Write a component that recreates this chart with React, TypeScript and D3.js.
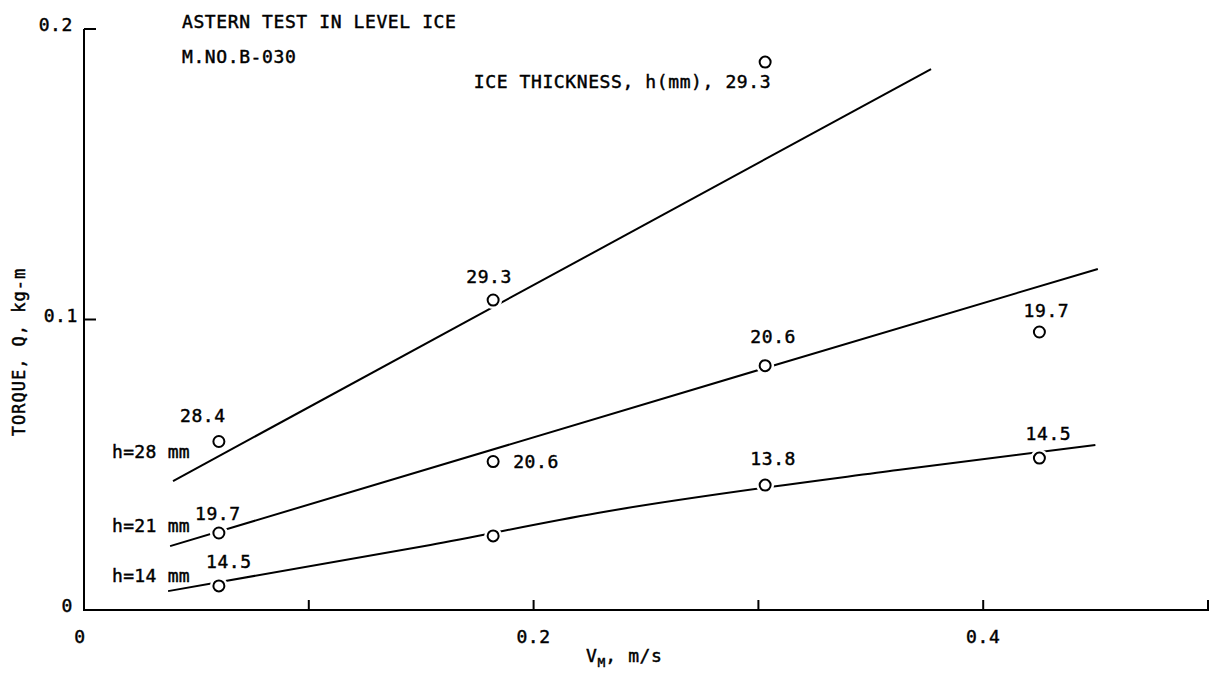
import React from "react";
import * as d3 from "d3";

// Model speed (m/s) at which each run was made
const speeds = [0.06, 0.182, 0.303, 0.425];

// Measured torque (kg-m) per nominal ice thickness, with the actual thickness (mm) of each run
const torque28 = [0.058, 0.1067, 0.1886];
const thick28 = ["28.4", "29.3", "29.3"];
const torque21 = [0.0265, 0.0511, 0.0841, 0.0957];
const thick21 = ["19.7", "20.6", "20.6", "19.7"];
const torque14 = [0.0083, 0.0255, 0.043, 0.0523];
const thick14 = ["14.5", "", "13.8", "14.5"];

// Faired curves drawn through the measurements: [speed, torque]
const fair28: [number, number][] = [
  [0.0396, 0.0444],
  [0.3768, 0.1862],
];
const fair21: [number, number][] = [
  [0.0383, 0.022],
  [0.303, 0.0833],
  [0.451, 0.1174],
];
const fair14: [number, number][] = [
  [0.0374, 0.0065],
  [0.1541, 0.0224],
  [0.2285, 0.0334],
  [0.362, 0.0482],
  [0.4499, 0.0568],
];

// Curve captions: nominal thickness and the torque level of their baseline
const curveNames = ["h=28 mm", "h=21 mm", "h=14 mm"];
const curveNameTorque = [0.0524, 0.0268, 0.0096];

const xTicks = [0.1, 0.2, 0.3, 0.4, 0.5];
const xTickLabels = [0, 0.2, 0.4];
const yTicks = [0, 0.1, 0.2];

const W = 1216;
const H = 683;
const FONT = "'DejaVu Sans Mono', monospace";

export default function App() {
  const x = d3.scaleLinear().domain([0, 0.5]).range([84, 1208]);
  const y = d3.scaleLinear().domain([0, 0.2]).range([610, 29]);

  const line = d3
    .line<[number, number]>()
    .x((d) => x(d[0]))
    .y((d) => y(d[1]))
    .curve(d3.curveMonotoneX);

  const txt = {
    fontFamily: FONT,
    fontSize: 18,
    letterSpacing: 0.6,
    fill: "#000",
    stroke: "#000",
    strokeWidth: 0.45,
  } as const;

  // label offsets (px) from each circle for each series
  const series = [
    {
      vals: torque28,
      labels: thick28,
      offs: [
        [-16, -20, "middle"],
        [-4, -17, "middle"],
        null,
      ],
    },
    {
      vals: torque21,
      labels: thick21,
      offs: [
        [-1, -13, "middle"],
        [20, 6, "start"],
        [8, -23, "middle"],
        [7, -15, "middle"],
      ],
    },
    {
      vals: torque14,
      labels: thick14,
      offs: [
        [10, -18, "middle"],
        null,
        [8, -20, "middle"],
        [9, -18, "middle"],
      ],
    },
  ];

  return (
    <svg
      width={W}
      height={H}
      viewBox={`0 0 ${W} ${H}`}
      style={{ position: "absolute", left: 0, top: 0, background: "#fff" }}
    >
      <rect x={0} y={0} width={W} height={H} fill="#fff" />

      {/* axes */}
      <line x1={x(0)} x2={x(0)} y1={y(0.2)} y2={y(0) + 1} stroke="#000" strokeWidth={2} />
      <line x1={x(0)} x2={x(0.5) + 1} y1={y(0)} y2={y(0)} stroke="#000" strokeWidth={2} />
      {yTicks.map((t) => (
        <g key={"yt" + t}>
          <line x1={x(0)} x2={x(0) + 12} y1={y(t)} y2={y(t)} stroke="#000" strokeWidth={2} />
          <text x={x(0) - (t === 0.1 ? 6 : 11)} y={y(t) + 2} textAnchor="end" {...txt}>
            {t === 0 ? "0" : t.toFixed(1)}
          </text>
        </g>
      ))}
      {xTicks.map((t) => (
        <line key={"xt" + t} x1={x(t)} x2={x(t)} y1={y(0)} y2={y(0) - 10} stroke="#000" strokeWidth={2} />
      ))}
      {xTickLabels.map((t) => (
        <text key={"xl" + t} x={x(t) - (t === 0 ? 4 : 0)} y={643} textAnchor="middle" {...txt}>
          {t === 0 ? "0" : t.toFixed(1)}
        </text>
      ))}

      {/* axis titles */}
      <text x={586} y={662} {...txt}>
        V
        <tspan fontSize={13} dy={5} letterSpacing={0}>
          M
        </tspan>
        <tspan dy={-5}>, m/s</tspan>
      </text>
      <text
        transform={`translate(25, 352) rotate(-90)`}
        textAnchor="middle"
        {...txt}
        fontSize={17}
        letterSpacing={1}
      >
        TORQUE, Q, kg-m
      </text>

      {/* headings */}
      <text x={182} y={28} {...txt}>
        ASTERN TEST IN LEVEL ICE
      </text>
      <text x={182} y={63} {...txt}>
        M.NO.B-030
      </text>
      <text x={x(speeds[2]) + 6} y={88} textAnchor="end" {...txt}>
        ICE THICKNESS, h(mm), 29.3
      </text>

      {/* faired curves */}
      {[fair28, fair21, fair14].map((f, i) => (
        <path key={"f" + i} d={line(f) ?? ""} fill="none" stroke="#000" strokeWidth={2} />
      ))}

      {/* curve captions */}
      {curveNames.map((n, i) => (
        <text key={"cn" + i} x={112} y={y(curveNameTorque[i])} {...txt} letterSpacing={0.3}>
          {n}
        </text>
      ))}

      {/* measured points */}
      {series.map((s, si) =>
        s.vals.map((v, i) => {
          const cx = x(speeds[i]);
          const cy = y(v);
          const o = s.offs[i] as [number, number, string] | null;
          return (
            <g key={`p${si}-${i}`}>
              <circle cx={cx} cy={cy} r={9} fill="#fff" />
              <circle cx={cx} cy={cy} r={5.5} fill="#fff" stroke="#000" strokeWidth={2} />
              {o && s.labels[i] && (
                <text
                  x={cx + o[0]}
                  y={cy + o[1]}
                  textAnchor={o[2] as "middle" | "start"}
                  {...txt}
                >
                  {s.labels[i]}
                </text>
              )}
            </g>
          );
        })
      )}
    </svg>
  );
}
